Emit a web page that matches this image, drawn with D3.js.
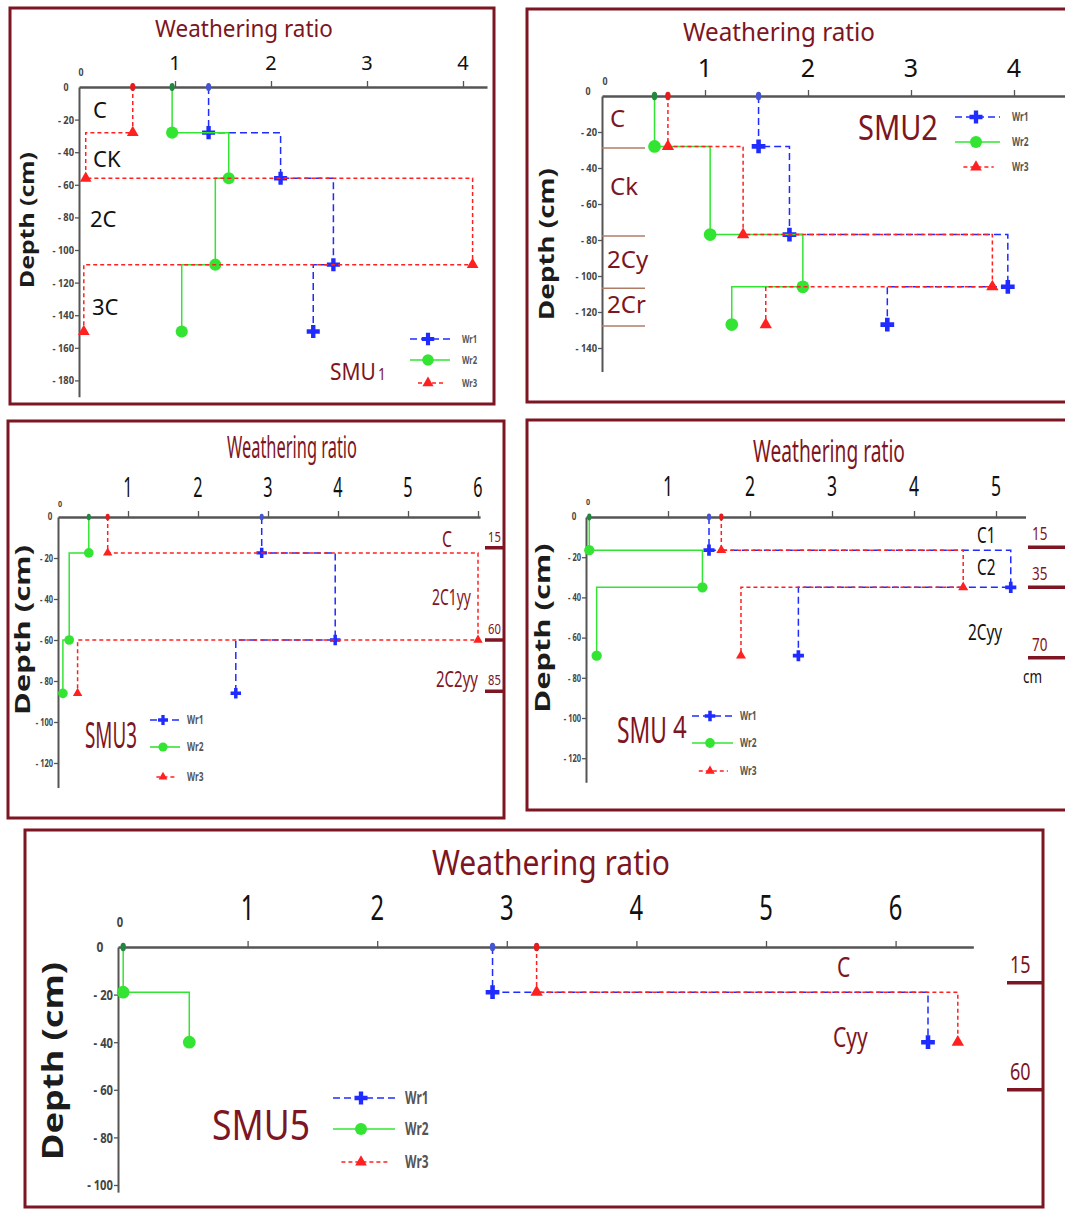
<!DOCTYPE html>
<html>
<head>
<meta charset="utf-8">
<script src="https://cdn.jsdelivr.net/npm/d3@7"></script>
<style>
  body { margin: 0; background: #fff; }
  svg text { font-family: 'Noto Sans', sans-serif; }
</style>
</head>
<body>
<svg id="chart" width="1065" height="1209"></svg>
<script>
// depth of the bottom of each horizon (cm) and the weathering ratios per horizon

// SMU1
const smu1Depths = [0, 28, 56, 109, 150];
const smu1Wr1 = [1.35, 2.1, 2.65, 2.44];
const smu1Wr2 = [0.97, 1.56, 1.42, 1.07];
const smu1Wr3 = [0.56, 0.07, 4.1, 0.05];
const smu1Horizons = ['C', 'CK', '2C', '3C'];

// SMU2
const smu2Depths = [0, 28, 77, 106, 127];
const smu2Wr1 = [1.52, 1.82, 3.94, 2.77];
const smu2Wr2 = [0.51, 1.05, 1.95, 1.26];
const smu2Wr3 = [0.64, 1.37, 3.79, 1.59];
const smu2Horizons = ['C', 'Ck', '2Cy', '2Cr'];

// SMU3
const smu3Depths = [0, 17.5, 60, 86];
const smu3Wr1 = [2.91, 3.96, 2.54];
const smu3Wr2 = [0.44, 0.16, 0.07];
const smu3Wr3 = [0.71, 6.0, 0.28];
const smu3Horizons = ['C', '2C1yy', '2C2yy'];
const smu3Bounds = [15, 60, 85];

// SMU4
const smu4Depths = [0, 16.5, 35, 69];
const smu4Wr1 = [1.5, 5.18, 2.59];
const smu4Wr2 = [0.04, 1.42, 0.13];
const smu4Wr3 = [1.65, 4.6, 1.89];
const smu4Horizons = ['C1', 'C2', '2Cyy'];
const smu4Bounds = [15, 35, 70];

// SMU5
const smu5Depths = [0, 19, 40];
const smu5Wr1 = [2.89, 6.25];
const smu5Wr2 = [0.04, 0.55];
const smu5Wr3 = [3.23, 6.48];
const smu5Horizons = ['C', 'Cyy'];
const smu5Bounds = [15, 60];

const maroon = '#7d1522';
const svg = d3.select('#chart');

// narrow a text with a horizontal scale, keeping its anchor point in place
// f < 1 squeezes by a factor, or pass w to fit an exact width
function squeeze(sel, f, w) {
  sel.each(function() {
    var t = d3.select(this);
    var k = w ? w / this.getComputedTextLength() : f;
    if (!k || k === 1) return;
    var x = +t.attr('x') || 0, y = +t.attr('y') || 0;
    var rot = t.attr('data-rot');
    t.attr('x', 0).attr('y', 0)
      .attr('transform', 'translate(' + x + ',' + y + ')' + (rot ? ' rotate(' + rot + ')' : '') + ' scale(' + k + ',1)');
  });
}

function label(g, x, y, str, fs, color, opts) {
  opts = opts || {};
  var t = g.append('text')
    .attr('x', x).attr('y', y)
    .attr('font-size', fs)
    .attr('fill', color)
    .attr('text-anchor', opts.anchor || 'start')
    .attr('font-weight', opts.weight || 'normal')
    .text(str);
  if (opts.rot) t.attr('data-rot', opts.rot);
  squeeze(t, opts.sq, opts.w);
  return t;
}

const seriesStyle = [
  { key: 'wr1', name: 'Wr1', color: '#1f2bff', top: '#4654d2', dash: '7,4', sym: d3.symbolCross, size: 95 },
  { key: 'wr2', name: 'Wr2', color: '#33e433', top: '#23883f', dash: null, sym: d3.symbolCircle, size: 115 },
  { key: 'wr3', name: 'Wr3', color: '#ff2020', top: '#e41c1c', dash: '4,3', sym: d3.symbolTriangle, size: 60 }
];

// step profile: vertical through each horizon, horizontal jump at the boundary
function steps(vals, depths) {
  var pts = [];
  vals.forEach(function(v, i) {
    pts.push([v, depths[i]]);
    pts.push([v, depths[i + 1]]);
  });
  return pts;
}

const panels = [
  { data: { depths: smu1Depths, wr1: smu1Wr1, wr2: smu1Wr2, wr3: smu1Wr3 },
    box: [10, 8, 494, 404], ox: 79, oy: 87, kx: 96, ky: 1.63, xMax: 4.25, yMax: 190,
    xTicks: [1, 2, 3, 4], yTicks: d3.range(20, 181, 20),
    title: { x: 244, y: 37, fs: 23, w: 178 }, tickFs: 20, tickOff: 17, sq: 1, yFs: 11,
    zeroX: [81, 76, 11], zeroY: [66, 91, 11],
    depthLab: { x: 27, y: 220, fs: 20, w: 136 },
    hor: { names: smu1Horizons, xs: [93, 93, 90, 92], ys: [118, 167, 227, 315], fs: 22, color: '#111' },
    smu: { x: 330, y: 380, fs: 24, w: 46, text: 'SMU', tail: '1', tailFs: 17, dx: 2, dy: 0 },
    leg: { x0: 410, x1: 450, xm: 428, rows: [339, 360, 383], lx: 462, fs: 11 },
    ms: 1 },
  { data: { depths: smu2Depths, wr1: smu2Wr1, wr2: smu2Wr2, wr3: smu2Wr3 },
    box: [527, 9, 1090, 402], ox: 602, oy: 96, kx: 103, ky: 1.8, xMax: 4.7, yMax: 153,
    xTicks: [1, 2, 3, 4], yTicks: d3.range(20, 141, 20),
    title: { x: 779, y: 41, fs: 26, w: 192 }, tickFs: 25, tickOff: 19, sq: 1, yFs: 11,
    zeroX: [605, 85, 11], zeroY: [588, 95, 11],
    depthLab: { x: 546, y: 244, fs: 22, w: 152 },
    hor: { names: smu2Horizons, xs: [610, 610, 607, 607], ys: [127, 195, 268, 313], fs: 24, color: maroon },
    sepLines: [602, 645],
    smu: { x: 858, y: 140, fs: 34, w: 80, text: 'SMU2' },
    leg: { x0: 955, x1: 1000, xm: 976, rows: [117, 142, 167], lx: 1012, fs: 12 },
    ms: 1.05 },
  { data: { depths: smu3Depths, wr1: smu3Wr1, wr2: smu3Wr2, wr3: smu3Wr3 },
    box: [8, 421, 504, 818], ox: 58, oy: 517, kx: 70, ky: 2.05, xMax: 6.03, yMax: 132,
    xTicks: [1, 2, 3, 4, 5, 6], yTicks: d3.range(20, 121, 20),
    title: { x: 292, y: 458, fs: 30, w: 130 }, tickFs: 27, tickOff: 20, sq: 0.6, yFs: 10,
    zeroX: [60, 507, 9], zeroY: [50, 520, 10],
    depthLab: { x: 23, y: 630, fs: 21, w: 170 },
    hor: { names: smu3Horizons, xs: [442, 432, 436], ys: [547, 605, 687], fs: 21, color: maroon, ws: [10, 39, 42] },
    bounds: { vals: smu3Bounds, x: 488, x0: 485, x1: 504, fs: 15 },
    smu: { x: 85, y: 748, fs: 36, w: 52, text: 'SMU3' },
    leg: { x0: 150, x1: 180, xm: 163, rows: [720, 747, 777], lx: 187, fs: 12 },
    ms: 0.8 },
  { data: { depths: smu4Depths, wr1: smu4Wr1, wr2: smu4Wr2, wr3: smu4Wr3 },
    box: [527, 420, 1090, 810], ox: 586, oy: 517, kx: 82, ky: 2.01, xMax: 5.36, yMax: 132,
    xTicks: [1, 2, 3, 4, 5], yTicks: d3.range(20, 121, 20),
    title: { x: 829, y: 462, fs: 30, w: 152 }, tickFs: 27, tickOff: 21, sq: 0.65, yFs: 10,
    zeroX: [588, 505, 9], zeroY: [574, 520, 10],
    depthLab: { x: 543, y: 628, fs: 21, w: 169 },
    hor: { names: smu4Horizons, xs: [977, 977, 968], ys: [543, 575, 640], fs: 22, color: '#111', sq: 0.7 },
    bounds: { vals: smu4Bounds, x: 1032, x0: 1028, x1: 1070, fs: 18 },
    unit: { x: 1023, y: 683, fs: 18 },
    smu: { x: 617, y: 743, fs: 36, w: 50, text: 'SMU', tail: '4', tailFs: 30, dx: 6, dy: -5 },
    leg: { x0: 692, x1: 733, xm: 710, rows: [716, 743, 771], lx: 740, fs: 12 },
    ms: 0.85 },
  { data: { depths: smu5Depths, wr1: smu5Wr1, wr2: smu5Wr2, wr3: smu5Wr3 },
    box: [25, 830, 1043, 1207], ox: 118, oy: 947, kx: 129.6, ky: 2.38, xMax: 6.6, yMax: 103,
    xTicks: [1, 2, 3, 4, 5, 6], yTicks: d3.range(20, 101, 20),
    title: { x: 551, y: 875, fs: 34, w: 238 }, tickFs: 34, tickOff: 27, sq: 0.7, yFs: 15,
    zeroX: [120, 927, 14], zeroY: [100, 952, 15],
    depthLab: { x: 53, y: 1061, fs: 28, w: 198 },
    hor: { names: smu5Horizons, xs: [837, 833], ys: [977, 1047], fs: 28, color: maroon, sq: 0.75 },
    bounds: { vals: smu5Bounds, x: 1010, x0: 1007, x1: 1043, fs: 24 },
    smu: { x: 212, y: 1140, fs: 42, w: 98, text: 'SMU5' },
    leg: { x0: 333, x1: 395, xm: 361, rows: [1098, 1129, 1162], lx: 405, fs: 17 },
    ms: 1.05 }
];

panels.forEach(function(p) {
  var g = svg.append('g');
  var d = p.data;

  var x = d3.scaleLinear().domain([0, p.xMax]).range([p.ox, p.ox + p.kx * p.xMax]);
  var y = d3.scaleLinear().domain([0, p.yMax]).range([p.oy, p.oy + p.ky * p.yMax]);

  // frame
  g.append('rect')
    .attr('x', p.box[0]).attr('y', p.box[1])
    .attr('width', p.box[2] - p.box[0]).attr('height', p.box[3] - p.box[1])
    .attr('fill', 'none').attr('stroke', maroon).attr('stroke-width', 3);

  // x axis on top
  g.append('g')
    .attr('transform', 'translate(0,' + p.oy + ')')
    .call(d3.axisTop(x).tickValues(p.xTicks).tickSize(6).tickSizeOuter(0).tickFormat(''))
    .call(a => a.select('.domain').attr('stroke', '#555').attr('stroke-width', 2.5))
    .call(a => a.selectAll('.tick line').attr('stroke', '#555').attr('stroke-width', 1.3));

  p.xTicks.forEach(function(t) {
    label(g, x(t), p.oy - p.tickOff, t, p.tickFs, '#111', { anchor: 'middle', sq: p.sq });
  });

  // y axis, depth downwards
  var ya = g.append('g')
    .attr('transform', 'translate(' + p.ox + ',0)')
    .call(d3.axisLeft(y).tickValues(p.yTicks).tickSize(4).tickPadding(1).tickSizeOuter(0)
      .tickFormat(v => '- ' + v));
  ya.select('.domain').attr('stroke', '#555').attr('stroke-width', 2);
  ya.selectAll('.tick line').attr('stroke', '#555').attr('stroke-width', 1.3);
  ya.selectAll('.tick text')
    .attr('font-size', p.yFs).attr('font-weight', 'bold').attr('fill', '#444')
    .attr('font-family', "'Noto Sans', sans-serif")
    .call(s => squeeze(s, p.sq < 1 ? 0.75 : 0.85));

  label(g, p.zeroX[0], p.zeroX[1], '0', p.zeroX[2], '#444', { anchor: 'middle', weight: 'bold', sq: 0.8 });
  label(g, p.zeroY[0], p.zeroY[1], '0', p.zeroY[2], '#444', { anchor: 'middle', weight: 'bold', sq: 0.8 });

  // titles
  label(g, p.title.x, p.title.y, 'Weathering ratio', p.title.fs, maroon, { anchor: 'middle', w: p.title.w });
  label(g, p.depthLab.x + p.depthLab.fs * 0.35, p.depthLab.y, 'Depth (cm)', p.depthLab.fs, '#1c1c1c',
    { anchor: 'middle', weight: 'bold', rot: -90, w: p.depthLab.w });

  // horizon names
  p.hor.names.forEach(function(n, i) {
    label(g, p.hor.xs[i], p.hor.ys[i], n, p.hor.fs, p.hor.color,
      { sq: p.hor.sq, w: p.hor.ws ? p.hor.ws[i] : null });
  });

  // short separators at horizon boundaries (SMU2)
  if (p.sepLines) {
    d.depths.slice(1).forEach(function(dp) {
      g.append('line')
        .attr('x1', p.sepLines[0]).attr('x2', p.sepLines[1])
        .attr('y1', y(dp) + 1.5).attr('y2', y(dp) + 1.5)
        .attr('stroke', '#b07c66').attr('stroke-width', 1.5);
    });
  }

  // horizon boundary depths at the right edge
  if (p.bounds) {
    p.bounds.vals.forEach(function(b) {
      g.append('line')
        .attr('x1', p.bounds.x0).attr('x2', p.bounds.x1)
        .attr('y1', y(b)).attr('y2', y(b))
        .attr('stroke', maroon).attr('stroke-width', 3.5);
      label(g, p.bounds.x, y(b) - 0.4 * p.bounds.fs, b, p.bounds.fs, maroon, { sq: 0.75 });
    });
  }
  if (p.unit) label(g, p.unit.x, p.unit.y, 'cm', p.unit.fs, '#111', { sq: 0.75 });

  // profiles
  var line = d3.line().x(v => x(v[0])).y(v => y(v[1]));
  seriesStyle.forEach(function(s) {
    var vals = d[s.key];
    g.append('path')
      .attr('d', line(steps(vals, d.depths)))
      .attr('fill', 'none')
      .attr('stroke', s.color)
      .attr('stroke-width', 1.5)
      .attr('stroke-dasharray', s.dash);

    g.append('ellipse')
      .attr('cx', x(vals[0])).attr('cy', y(0))
      .attr('rx', 2.6 * p.ms).attr('ry', 4 * p.ms)
      .attr('fill', s.top);

    g.selectAll(null)
      .data(vals)
      .enter()
      .append('path')
      .attr('d', d3.symbol(s.sym, s.size * p.ms * p.ms))
      .attr('transform', (v, i) => 'translate(' + x(v) + ',' + y(d.depths[i + 1]) + ')')
      .attr('fill', s.color);
  });

  // legend
  seriesStyle.forEach(function(s, i) {
    var ry = p.leg.rows[i];
    var x0 = p.leg.x0 + (i === 2 ? 8 * p.ms : 0);
    var x1 = p.leg.x1 - (i === 2 ? 6 * p.ms : 0);
    g.append('line')
      .attr('x1', x0).attr('x2', x1).attr('y1', ry).attr('y2', ry)
      .attr('stroke', s.color).attr('stroke-width', 1.6)
      .attr('stroke-dasharray', s.dash);
    g.append('path')
      .attr('d', d3.symbol(s.sym, s.size * p.ms * p.ms * 0.9))
      .attr('transform', 'translate(' + p.leg.xm + ',' + ry + ')')
      .attr('fill', s.color);
    label(g, p.leg.lx, ry + p.leg.fs * 0.35, s.name, p.leg.fs, '#555', { weight: 'bold', sq: 0.7 });
  });

  // unit name (SMU1 has a small trailing 1, SMU 4 a raised 4)
  label(g, p.smu.x, p.smu.y, p.smu.text, p.smu.fs, maroon, { w: p.smu.w });
  if (p.smu.tail) {
    label(g, p.smu.x + p.smu.w + p.smu.dx, p.smu.y + p.smu.dy, p.smu.tail, p.smu.tailFs, maroon, { sq: 0.8 });
  }
});
</script>
</body>
</html>
